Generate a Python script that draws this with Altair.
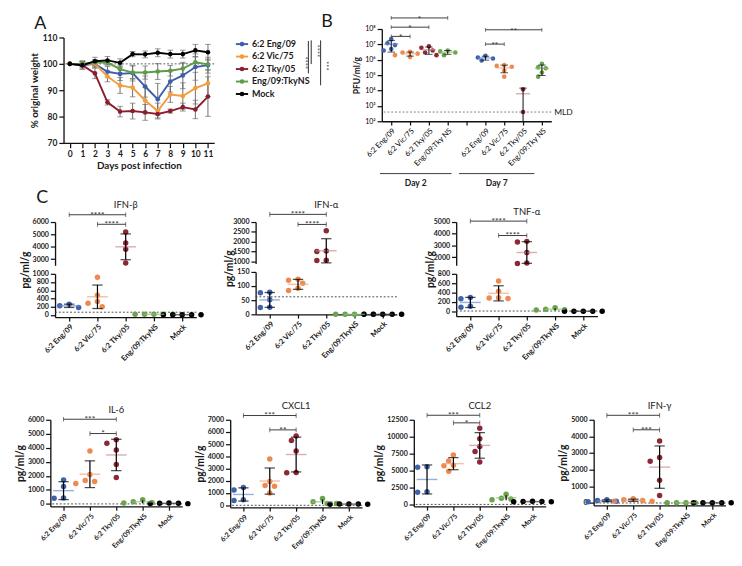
import json
import altair as alt
import numpy as np
import pandas as pd

FONT = "Lato"
INK = "#1a1a1a"

GROUPS = ["6:2 Eng/09", "6:2 Vic/75", "6:2 Tky/05", "Eng/09:TkyNS", "Mock"]
LINE_COLORS = ["#3d5ea8", "#f39c3a", "#8b1d2c", "#5d9b47", "#000000"]
DOT_COLORS = ["#4062ad", "#ee8a50", "#8e2737", "#6aa34c", "#000000"]
MEAN_COLORS = ["#6e8dd2", "#f2a47c", "#c98d94", "#8dc078", "#333333"]

# ---------------- Panel A: % original weight (mean, SD)
DAYS = list(range(12))
W_ENG = [100, 99.5, 100, 97.0, 96.2, 96.5, 91.4, 86.6, 93.3, 95.6, 98.8, 99.5]
W_VIC = [100, 100, 100, 95.2, 91.8, 91.0, 86.1, 82.1, 88.4, 87.8, 90.8, 92.6]
W_TKY = [100, 99.5, 96.4, 85.4, 81.9, 82.1, 81.6, 81.0, 82.1, 83.6, 82.7, 87.6]
W_NS = [100, 100, 100.5, 100.5, 98.0, 96.7, 96.7, 97.1, 97.4, 98.2, 100.6, 99.8]
W_MOCK = [100, 99.5, 101.0, 101.3, 100.4, 103.7, 103.6, 104.2, 103.7, 103.7, 105.1, 104.4]
SD_ENG = [0, 1.0, 1.5, 2.0, 2.5, 3.0, 4.0, 6.0, 4.0, 5.0, 5.0, 3.0]
SD_VIC = [0, 1.0, 1.0, 2.0, 3.0, 3.5, 5.0, 3.0, 3.0, 5.0, 6.0, 5.0]
SD_TKY = [0, 1.5, 2.0, 1.0, 2.0, 3.0, 3.0, 1.5, 0.8, 1.5, 3.5, 7.5]
SD_NS = [0, 1.0, 1.0, 1.0, 1.5, 2.5, 2.5, 3.0, 2.0, 2.0, 2.0, 2.0]
SD_MOCK = [0, 1.5, 1.5, 1.5, 1.5, 1.0, 1.3, 1.5, 1.5, 1.5, 2.3, 3.0]
A_SIG = ["****", "****", "***"]

# ---------------- Panel B: PFU/ml/g (log)
B_LABELS = ["6:2 Eng/09", "6:2 Vic/75", "6:2 Tky/05", "Eng/09:Tky NS", "",
            "6:2 Eng/09", "6:2 Vic/75", "6:2 Tky/05", "Eng/09:Tky NS"]
PFU_D2_ENG = [2.2e7, 1.2e7, 9.0e6, 5.0e6, 4.0e6]
PFU_D2_VIC = [3.3e6, 3.0e6, 2.5e6, 2.0e6, 1.5e6]
PFU_D2_TKY = [7.5e6, 6.0e6, 4.0e6, 3.0e6, 2.0e6]
PFU_D2_NS = [4.0e6, 3.5e6, 3.0e6, 2.0e6]
PFU_D7_ENG = [1.8e6, 1.4e6, 1.2e6, 9.0e5]
PFU_D7_VIC = [4.5e5, 4.0e5, 3.5e5, 2.0e5, 8.0e4]
PFU_D7_TKY = [1.2e4, 4.0e2]
PFU_D7_NS = [5.5e5, 3.2e5, 2.8e5, 1.5e5, 8.0e4]
PFU_MLD = 400
B_BRACKETS = [(0, 3, 10 ** 8.72, "*"), (0, 2, 10 ** 8.12, "*"), (0, 1, 10 ** 7.52, "*"),
              (5, 8, 10 ** 7.95, "**"), (5, 6, 10 ** 7.02, "**")]
B_DAYS = [("Day 2", -0.6, 3.2), ("Day 7", 3.6, 7.6)]

# ---------------- Panel C: cytokines pg/ml/g
IFNB = {"6:2 Eng/09": [265, 225, 185], "6:2 Vic/75": [920, 480, 330, 290, 200],
        "6:2 Tky/05": [5200, 4300, 3800, 2700], "Eng/09:TkyNS": [20, 20, 20, 20, 20],
        "Mock": [10, 10, 10, 10, 10]}
IFNA = {"6:2 Eng/09": [78, 76, 52, 25, 24], "6:2 Vic/75": [124, 121, 110, 92, 84],
        "6:2 Tky/05": [2560, 1530, 1510, 1070, 1050], "Eng/09:TkyNS": [0, 0, 0, 0, 0],
        "Mock": [0, 0, 0, 0, 0]}
TNFA = {"6:2 Eng/09": [300, 270, 110, 90], "6:2 Vic/75": [650, 430, 290, 285, 275],
        "6:2 Tky/05": [3350, 3300, 2400, 1500, 1450], "Eng/09:TkyNS": [80, 50, 40, 30],
        "Mock": [5, 5, 5, 5, 5]}
IL6 = {"6:2 Eng/09": [1700, 1250, 430, 400], "6:2 Vic/75": [3770, 2100, 1670, 1600, 1450],
       "6:2 Tky/05": [4570, 4330, 3850, 2820, 1890], "Eng/09:TkyNS": [300, 150, 90, 60],
       "Mock": [60, 40, 30, 20, 50]}
CXCL1 = {"6:2 Eng/09": [1450, 1250, 450, 400], "6:2 Vic/75": [3800, 1950, 1620, 1550, 1000],
         "6:2 Tky/05": [5680, 5300, 4450, 2680, 2670], "Eng/09:TkyNS": [550, 300, 150, 150],
         "Mock": [100, 90, 110, 100, 95]}
CCL2 = {"6:2 Eng/09": [5580, 5500, 1880, 1780], "6:2 Vic/75": [7300, 6400, 5800, 5700, 4900],
        "6:2 Tky/05": [11250, 9700, 8570, 7800, 6250], "Eng/09:TkyNS": [1500, 900, 800, 700],
        "Mock": [450, 400, 420, 380, 440]}
IFNG = {"6:2 Eng/09": [200, 150, 100, 80], "6:2 Vic/75": [260, 200, 150, 110, 100],
        "6:2 Tky/05": [3730, 2730, 2510, 1360, 450], "Eng/09:TkyNS": [10, 10, 10, 10],
        "Mock": [10, 10, 10, 10, 10]}


def swarm_offsets(vals, to_px, r=6.5, step=5.0):
    order = sorted(range(len(vals)), key=lambda i: -vals[i])
    placed, offs = [], [0.0] * len(vals)
    for i in order:
        py = to_px(vals[i])
        for c in [0, -1, 1, -2, 2, -3, 3, -4, 4]:
            ox = c * step
            if all((ox - qx) ** 2 + (py - qy) ** 2 >= r * r for qx, qy in placed):
                break
        placed.append((ox, py))
        offs[i] = ox
    return offs


def mstats(vals):
    v = np.array(vals, dtype=float)
    m = float(v.mean())
    sd = float(v.std(ddof=1)) if len(v) > 1 else 0.0
    return m, sd


SX = lambda f: alt.X(f, axis=None, scale=alt.Scale(domain=[0, 1], nice=False, zero=False))
SY = lambda f: alt.Y(f, axis=None, scale=alt.Scale(domain=[0, 1], nice=False, zero=False))


def spacer(w, h=1):
    return alt.Chart(pd.DataFrame({"s": [0.5]})).mark_point(opacity=0).encode(
        x=SX("s:Q"), y=SY("s:Q")).properties(width=w, height=h)


def letter_layer(t, x, y, X, Y, align="left"):
    return alt.Chart(pd.DataFrame({"lx": [x], "ly": [y], "t": [t]})).mark_text(
        align=align, baseline="bottom", font=FONT, fontSize=19, fontWeight="normal",
        color=INK).encode(x=X("lx:Q"), y=Y("ly:Q"), text="t:N")


# ================= Panel A
rowsA = []
for g, ws, ss in zip(GROUPS, [W_ENG, W_VIC, W_TKY, W_NS, W_MOCK],
                     [SD_ENG, SD_VIC, SD_TKY, SD_NS, SD_MOCK]):
    for d, w, s in zip(DAYS, ws, ss):
        rowsA.append(dict(day=d, g=g, m=w, lo=w - s, hi=w + s))
dfA = pd.DataFrame(rowsA)
capsA = pd.concat([dfA[["day", "g", "lo"]].rename(columns={"lo": "c"}),
                   dfA[["day", "g", "hi"]].rename(columns={"hi": "c"})])

axA_x = alt.Axis(values=DAYS, title="Days post infection", labelFontSize=9, titleFontSize=10.5,
                 titlePadding=3, labelOverlap=False, minExtent=0)
axA_y = alt.Axis(values=[70, 80, 90, 100, 110], title="% original weight", labelFontSize=9,
                 titleFontSize=10.5, titlePadding=3, labelOverlap=False, minExtent=0)
scA_x = alt.Scale(domain=[-0.5, 11.5], nice=False, zero=False)
scA_y = alt.Scale(domain=[70, 110], nice=False, zero=False)


def XA(f):
    return alt.X(f, scale=scA_x, axis=axA_x)


def YA(f):
    return alt.Y(f, scale=scA_y, axis=axA_y)


colA = alt.Color("g:N", scale=alt.Scale(domain=GROUPS, range=LINE_COLORS), legend=None)
a_ref = alt.Chart(pd.DataFrame({"v": [100]})).mark_rule(
    strokeDash=[2, 2], color="#555", strokeWidth=1).encode(y=YA("v:Q"))
a_err = alt.Chart(dfA).mark_rule(color="#666", strokeWidth=1).encode(
    x=XA("day:Q"), y=YA("lo:Q"), y2="hi:Q")
a_cap = alt.Chart(capsA).mark_tick(orient="horizontal", size=6, thickness=1, color="#666").encode(
    x=XA("day:Q"), y=YA("c:Q"))
a_line = alt.Chart(dfA).mark_line(strokeWidth=2).encode(x=XA("day:Q"), y=YA("m:Q"), color=colA,
                                                        order="day:Q")
a_pt = alt.Chart(dfA).mark_circle(size=24, opacity=1).encode(x=XA("day:Q"), y=YA("m:Q"), color=colA)
chartA = alt.layer(a_ref, a_err, a_cap, a_line, a_pt).properties(width=160, height=112)

# spacer above A carrying the panel letter (1 px wide, 3 px tall)
spA = alt.layer(
    alt.Chart(pd.DataFrame({"s": [0.5]})).mark_point(opacity=0).encode(x=SX("s:Q"), y=SY("s:Q")),
    letter_layer("A", -31, -0.33, SX, SY)).properties(width=1, height=3)

# ================= Legend of A with significance bars
LEG_W, LEG_H = 99, 80
legdf = pd.DataFrame({"g": GROUPS, "i": list(range(5)), "col": LINE_COLORS})
legdf["x0"], legdf["x1"], legdf["xm"], legdf["xt"] = 0, 13, 6.5, 17
scL_x = alt.Scale(domain=[0, LEG_W], nice=False, zero=False)
scL_y = alt.Scale(domain=[-1.21, 4.83], nice=False, zero=False, reverse=True)
lx = lambda f: alt.X(f, scale=scL_x, axis=None)
ly = lambda f: alt.Y(f, scale=scL_y, axis=None)
l_line = alt.Chart(legdf).mark_rule(strokeWidth=2).encode(
    x=lx("x0:Q"), x2="x1:Q", y=ly("i:Q"), color=alt.Color("col:N", scale=None))
l_pt = alt.Chart(legdf).mark_circle(size=24, opacity=1).encode(
    x=lx("xm:Q"), y=ly("i:Q"), color=alt.Color("col:N", scale=None))
l_txt = alt.Chart(legdf).mark_text(align="left", baseline="middle", font=FONT, fontSize=9.5,
                                   fontWeight="bold", color=INK).encode(
    x=lx("xt:Q"), y=ly("i:Q"), text="g:N")
sigdf = pd.DataFrame({"x": [77, 80, 90], "y1": [-0.25, -0.3, -0.3], "y2": [2.35, 1.6, 3.3],
                      "tx": [72, 85, 95], "ty": [1.5, 0.55, 1.75], "t": A_SIG})
l_sig = alt.Chart(sigdf).mark_rule(color="#222", strokeWidth=1).encode(
    x=lx("x:Q"), y=ly("y1:Q"), y2="y2:Q")
l_sigt = alt.Chart(sigdf).mark_text(angle=90, font=FONT, fontSize=8, color="#333",
                                    baseline="middle").encode(
    x=lx("tx:Q"), y=ly("ty:Q"), text="t:N")
l_let = letter_layer("B", LEG_W + 4, -1.06, lx, ly, align="right")
legend = alt.layer(l_line, l_pt, l_txt, l_sig, l_sigt, l_let).properties(width=LEG_W, height=LEG_H)

# ================= Panel B
B_SLOT = 20.0
B_PX_DEC = 16.3
b_sets = [(0, 0, PFU_D2_ENG), (1, 1, PFU_D2_VIC), (2, 2, PFU_D2_TKY), (3, 3, PFU_D2_NS),
          (5, 0, PFU_D7_ENG), (6, 1, PFU_D7_VIC), (7, 2, PFU_D7_TKY), (8, 3, PFU_D7_NS)]
bpts, bst = [], []
for slot, gi, vals in b_sets:
    offs = swarm_offsets(vals, lambda v: -B_PX_DEC * np.log10(v), r=5.0, step=4.0)
    for v, o in zip(vals, offs):
        bpts.append(dict(x=slot + o / B_SLOT, v=v, col=DOT_COLORS[gi]))
    m, sd = mstats(vals)
    bst.append(dict(x=slot, m=m, lo=max(m - sd, 100.0), hi=m + sd, col=MEAN_COLORS[gi],
                    lcap=(m - sd) > 100))
bpts = pd.DataFrame(bpts)
bst = pd.DataFrame(bst)
bcaps = pd.concat([bst[bst["lcap"]][["x", "lo"]].rename(columns={"lo": "c"}),
                   bst[["x", "hi"]].rename(columns={"hi": "c"})])
B_EXPR = "[" + ",".join(json.dumps(s) for s in B_LABELS) + "][round(datum.value)]"
SUP = "⁰¹²³⁴⁵⁶⁷⁸⁹"
SUP_EXPR = "'10' + [" + ",".join(json.dumps(c) for c in SUP) + "][round(log(datum.value)/LN10)]"
axB_x = alt.Axis(values=list(range(9)), labelExpr=B_EXPR, labelAngle=-45, labelFontSize=8,
                 labelFontWeight="normal", title=None, tickSize=4, labelOverlap=False,
                 labelColor="#000", minExtent=0)
axB_y = alt.Axis(values=[10 ** k for k in range(2, 9)], labelExpr=SUP_EXPR, labelFontSize=7.5,
                 labelFontWeight="normal", title="PFU/ml/g", titleFontSize=9, titlePadding=3,
                 labelOverlap=False, labelColor="#000", minExtent=0)
scB_x = alt.Scale(domain=[-0.5, 8.5], nice=False, zero=False)
scB_y = alt.Scale(type="log", domain=[1e2, 1e8], nice=False)
XB = lambda f: alt.X(f, scale=scB_x, axis=axB_x)
YB = lambda f: alt.Y(f, scale=scB_y, axis=axB_y)
b_mld = alt.Chart(pd.DataFrame({"v": [PFU_MLD]})).mark_rule(
    strokeDash=[2, 2], color="#777", strokeWidth=1).encode(y=YB("v:Q"))
b_mldt = alt.Chart(pd.DataFrame({"v": [PFU_MLD], "x": [8.65], "t": ["MLD"]})).mark_text(
    align="left", baseline="middle", font=FONT, fontSize=9, color=INK).encode(
    x=XB("x:Q"), y=YB("v:Q"), text="t:N")
b_pt = alt.Chart(bpts).mark_circle(size=24, opacity=1).encode(
    x=XB("x:Q"), y=YB("v:Q"), color=alt.Color("col:N", scale=None))
b_mean = alt.Chart(bst).mark_tick(orient="horizontal", size=15, thickness=1.5).encode(
    x=XB("x:Q"), y=YB("m:Q"), color=alt.Color("col:N", scale=None))
b_err = alt.Chart(bst).mark_rule(color="black", strokeWidth=1).encode(
    x=XB("x:Q"), y=YB("lo:Q"), y2="hi:Q")
b_cap = alt.Chart(bcaps).mark_tick(orient="horizontal", size=8, thickness=1, color="black").encode(
    x=XB("x:Q"), y=YB("c:Q"))
bbr = pd.DataFrame([dict(x1=a, x2=b, xm=(a + b) / 2, y=y, t=t) for a, b, y, t in B_BRACKETS])
bbr_ends = pd.concat([bbr[["x1", "y"]].rename(columns={"x1": "x"}),
                      bbr[["x2", "y"]].rename(columns={"x2": "x"})])
b_br = alt.Chart(bbr).mark_rule(color="#333", strokeWidth=1).encode(
    x=XB("x1:Q"), x2="x2:Q", y=YB("y:Q"))
b_bre = alt.Chart(bbr_ends).mark_tick(orient="vertical", size=4, thickness=1, color="#333").encode(
    x=XB("x:Q"), y=YB("y:Q"))
b_brt = alt.Chart(bbr).mark_text(font=FONT, fontSize=8.5, color="#333", baseline="alphabetic",
                                 dy=4).encode(x=XB("xm:Q"), y=YB("y:Q"), text="t:N")
bday = pd.DataFrame([dict(t=t, x1=a, x2=b, xm=(a + b) / 2, yl=10 ** -1.4, yt=10 ** -2.0)
                     for t, a, b in B_DAYS])
b_dl = alt.Chart(bday).mark_rule(color="#333", strokeWidth=1).encode(
    x=XB("x1:Q"), x2="x2:Q", y=YB("yl:Q"))
b_dt = alt.Chart(bday).mark_text(font=FONT, fontSize=9, fontWeight="bold", color=INK,
                                 baseline="middle").encode(x=XB("xm:Q"), y=YB("yt:Q"), text="t:N")
chartB = alt.layer(b_mld, b_mldt, b_pt, b_mean, b_err, b_cap, b_br, b_bre, b_brt, b_dl, b_dt
                   ).properties(width=180, height=98)

# ================= Panel C builder
C_EXPR = "[" + ",".join(json.dumps(s) for s in GROUPS) + "][round(datum.value)]"


def cyto_panel(name, data, segs, lod, brackets, width, gap=9, xlab=8.0, panel_letter=None):
    slot = width / 5.0
    tops, y0 = [], 0.0
    for s in segs:
        tops.append(y0)
        y0 += s["h"] + gap

    def seg_of(v):
        for k, s in enumerate(segs):
            if v >= s["dom"][0] or k == len(segs) - 1:
                return k

    def to_px(v):
        k = seg_of(v)
        s = segs[k]
        return tops[k] + (s["dom"][1] - v) * s["h"] / (s["dom"][1] - s["dom"][0])

    pts, st = [], []
    for gi, g in enumerate(GROUPS):
        vals = data[g]
        offs = swarm_offsets(vals, to_px)
        for v, o in zip(vals, offs):
            pts.append(dict(x=gi + o / slot, v=v, seg=seg_of(v), col=DOT_COLORS[gi]))
        m, sd = mstats(vals)
        st.append(dict(gi=gi, m=m, lo=m - sd, hi=m + sd, col=MEAN_COLORS[gi]))
    pts = pd.DataFrame(pts)
    st = pd.DataFrame(st)
    scx = alt.Scale(domain=[-0.5, 4.5], nice=False, zero=False)
    charts = []
    n = len(segs)
    for k, s in enumerate(segs):
        d0, d1 = s["dom"]
        last = k == n - 1
        first = k == 0
        if last:
            axx = alt.Axis(values=[0, 1, 2, 3, 4], labelExpr=C_EXPR, labelAngle=-45,
                           labelFontSize=xlab, title=None, tickSize=4, labelOverlap=False,
                           labelBound=False, labelFlush=False, minExtent=0)
        else:
            axx = None
        if last:
            tY = (s["h"] - (tops[k])) / 2.0
            axy = alt.Axis(values=s["ticks"], format="d", title="pg/ml/g", titleFontSize=11,
                           labelFontSize=7.5, titlePadding=2, titleY=tY, labelOverlap=False,
                           minExtent=0)
        else:
            axy = alt.Axis(values=s["ticks"], format="d", title=None, labelFontSize=7.5,
                           labelOverlap=False, minExtent=0)
        scy = alt.Scale(domain=[d0, d1], nice=False, zero=False)
        X = lambda f, axx=axx: alt.X(f, scale=scx, axis=axx)
        Y = lambda f, scy=scy, axy=axy: alt.Y(f, scale=scy, axis=axy)
        layers = []
        p = pts[pts["seg"] == k]
        layers.append(alt.Chart(p).mark_circle(size=34, opacity=1).encode(
            x=X("x:Q"), y=Y("v:Q"), color=alt.Color("col:N", scale=None)))
        if d0 <= lod <= d1:
            layers.insert(0, alt.Chart(pd.DataFrame({"v": [lod]})).mark_rule(
                strokeDash=[2, 2], color="#444", strokeWidth=1).encode(y=Y("v:Q")))
        sm = st[(st["m"] >= d0) & (st["m"] <= d1)]
        if len(sm):
            layers.append(alt.Chart(sm).mark_tick(orient="horizontal", size=22, thickness=1.5).encode(
                x=X("gi:Q"), y=Y("m:Q"), color=alt.Color("col:N", scale=None)))
        se = st.copy()
        se["lo_c"] = se["lo"].clip(lower=d0)
        se["hi_c"] = se["hi"].clip(upper=d1)
        se = se[se["hi_c"] > se["lo_c"]]
        if len(se):
            layers.append(alt.Chart(se).mark_rule(color="black", strokeWidth=1.3).encode(
                x=X("gi:Q"), y=Y("lo_c:Q"), y2="hi_c:Q"))
        caps = pd.concat([st[["gi", "lo"]].rename(columns={"lo": "c"}),
                          st[["gi", "hi"]].rename(columns={"hi": "c"})])
        caps = caps[(caps["c"] >= d0) & (caps["c"] <= d1)]
        caps = caps[caps["gi"] <= 2]
        if len(caps):
            layers.append(alt.Chart(caps).mark_tick(orient="horizontal", size=11, thickness=1.3,
                                                    color="black").encode(x=X("gi:Q"), y=Y("c:Q")))
        if first:
            br = pd.DataFrame([dict(x1=a, x2=b, xm=(a + b) / 2, y=y, t=t) for a, b, y, t in brackets])
            bre = pd.concat([br[["x1", "y"]].rename(columns={"x1": "x"}),
                             br[["x2", "y"]].rename(columns={"x2": "x"})])
            layers.append(alt.Chart(br).mark_rule(color="#333", strokeWidth=1).encode(
                x=X("x1:Q"), x2="x2:Q", y=Y("y:Q")))
            layers.append(alt.Chart(bre).mark_tick(orient="vertical", size=5, thickness=1,
                                                   color="#333").encode(x=X("x:Q"), y=Y("y:Q")))
            layers.append(alt.Chart(br).mark_text(font=FONT, fontSize=9, color="#333",
                                                  baseline="alphabetic", dy=3).encode(
                x=X("xm:Q"), y=Y("y:Q"), text="t:N"))
        if last and panel_letter is not None:
            t, lxv, lyv = panel_letter
            layers.append(letter_layer(t, lxv, lyv, X, Y))
        ch = alt.layer(*layers)
        if first:
            ch = ch.properties(width=width, height=s["h"],
                               title=alt.TitleParams(name, fontSize=10, font=FONT,
                                                     fontWeight="normal", offset=1, color=INK))
        else:
            ch = ch.properties(width=width, height=s["h"])
        charts.append(ch)
    if n == 1:
        return charts[0]
    return alt.vconcat(*charts, spacing=gap, bounds="flush")


# "C" sits in the lower segment's coordinates, 16 px above the upper segment (flush layout)
ifnb = cyto_panel("IFN-β", IFNB,
                  [dict(dom=[2500, 6000], ticks=[3000, 4000, 5000, 6000], h=46),
                   dict(dom=[-50, 1000], ticks=[0, 200, 400, 600, 800, 1000], h=46)],
                  70, [(0, 2, 6590, "****"), (1, 2, 5820, "****")], 150,
                  panel_letter=("C", -1.17, 1000 + (16 + 46 + 9) * 1050 / 46))
ifna = cyto_panel("IFN-α", IFNA,
                  [dict(dom=[900, 3000], ticks=[1000, 1500, 2000, 2500, 3000], h=44),
                   dict(dom=[0, 150], ticks=[0, 50, 100, 150], h=45)],
                  62, [(0, 2, 3390, "****"), (1, 2, 2880, "****")], 150)
tnfa = cyto_panel("TNF-α", TNFA,
                  [dict(dom=[1300, 5000], ticks=[2000, 3000, 4000, 5000], h=46),
                   dict(dom=[-100, 800], ticks=[0, 200, 400, 600, 800], h=45)],
                  10, [(0, 2, 5080, "****"), (1, 2, 3850, "****")], 150)
il6 = cyto_panel("IL-6", IL6, [dict(dom=[-180, 6000], ticks=list(range(0, 6001, 1000)), h=92)],
                 0, [(0, 2, 6040, "***"), (1, 2, 5020, "*")], 140, xlab=7.5)
cxcl1 = cyto_panel("CXCL1", CXCL1, [dict(dom=[-170, 7000], ticks=list(range(0, 7001, 1000)), h=93)],
                   0, [(0, 2, 7350, "***"), (1, 2, 6175, "**")], 140, xlab=7.5)
ccl2 = cyto_panel("CCL2", CCL2, [dict(dom=[-300, 12500], ticks=[0, 2500, 5000, 7500, 10000, 12500],
                                      h=92)],
                  0, [(0, 2, 13170, "***"), (1, 2, 12050, "*")], 140, xlab=7.5)
ifng = cyto_panel("IFN-γ", IFNG, [dict(dom=[-150, 5000], ticks=list(range(0, 5001, 1000)), h=91)],
                  0, [(0, 2, 5270, "***"), (1, 2, 4400, "***")], 140, xlab=7.5)

blockA = alt.vconcat(spA, chartA, spacing=0)
row1 = alt.hconcat(spacer(20, 1), alt.hconcat(blockA, legend, chartB, spacing=21), spacing=0)
row2 = alt.hconcat(spacer(9, 1), alt.hconcat(ifnb, ifna, tnfa, spacing=21), spacing=0)
row3 = alt.hconcat(spacer(1, 1), alt.hconcat(il6, cxcl1, ccl2, ifng, spacing=4), spacing=0)

chart = alt.vconcat(alt.vconcat(row1, row2, spacing=0), row3, spacing=40).properties(
    padding={"top": -13, "left": 0, "right": 0, "bottom": 0}).configure_view(
    stroke=None).configure_axis(
    grid=False, labelFont=FONT, titleFont=FONT, labelFontWeight="bold", titleFontWeight="bold",
    labelColor=INK, titleColor=INK, domainColor="#111", tickColor="#111", domainWidth=1.4,
    tickWidth=1.3, labelPadding=2, minExtent=0).configure_text(font=FONT)

chart.save("out.html", embed_options={"renderer": "svg", "actions": False})
